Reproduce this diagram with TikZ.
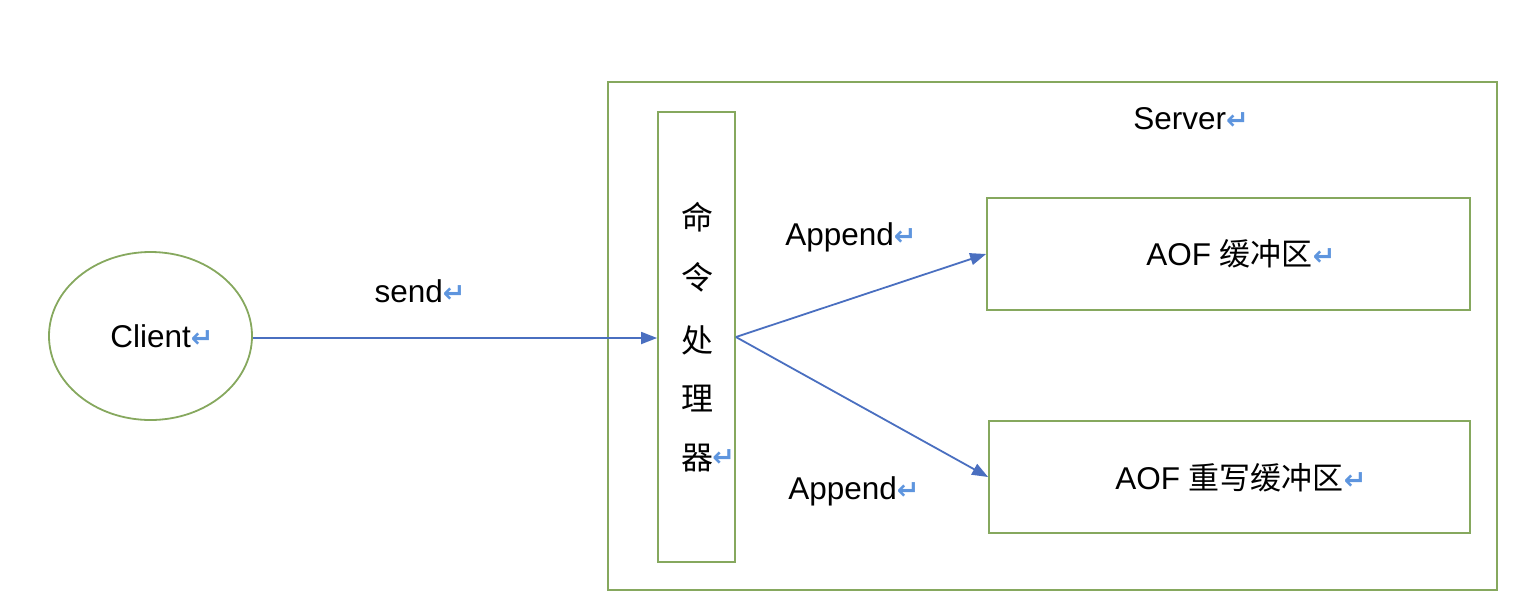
\documentclass[tikz,border=0pt]{standalone}
\usepackage{fontspec}
\setmainfont{Liberation Sans}
\newfontfamily\cjk{Noto Sans CJK SC}
\newfontfamily\symfont{DejaVu Sans}
\usetikzlibrary{shapes.geometric,arrows.meta}
\definecolor{boxgreen}{HTML}{86A85E}
\definecolor{arrblue}{HTML}{4A6FC0}
\definecolor{retblue}{HTML}{5E95DE}
\newcommand{\retmark}{{\symfont\bfseries\color{retblue}\fontsize{27}{27}\selectfont ↵}}
\tikzset{
  gbox/.style={draw=boxgreen, line width=1.8pt, rectangle, inner sep=0pt},
  lbl/.style={font=\fontsize{31.5}{34}\selectfont, inner sep=0pt, anchor=center},
  cjklbl/.style={lbl, font=\cjk\fontsize{32}{34}\selectfont},
  conn/.style={draw=arrblue, line width=1.8pt, -{Triangle[length=16pt,width=12pt]}}
}
\begin{document}
\begin{tikzpicture}[x=1pt,y=-1pt]
\useasboundingbox (0,0) rectangle (1532,614);
% server box
\node[gbox, minimum width=889pt, minimum height=508pt] (server) at (1052.5,336) {};
\node[lbl] (serverlbl) at (1191,119) {Server\retmark};
% client
\node[draw=boxgreen, line width=1.8pt, ellipse, minimum width=203pt, minimum height=168pt, inner sep=0pt] (client) at (150.5,336) {};
\node[lbl] (clientlbl) at (162,336) {Client\retmark};
% command processor
\node[gbox, minimum width=77pt, minimum height=450pt] (cmd) at (696.5,337) {};
\node[cjklbl] (c1) at (697,217) {命};
\node[cjklbl] (c2) at (697,277) {令};
\node[cjklbl] (c3) at (697,340) {处};
\node[cjklbl] (c4) at (697,399) {理};
\node[cjklbl] (c5) at (697,458) {器};
\node[inner sep=0pt, anchor=west] (c5ret) at ([xshift=-1pt]c5.east) {\retmark};
% AOF buffers
\node[gbox, minimum width=483pt, minimum height=112pt] (aof1) at (1228.5,254) {};
\node[lbl] (aof1lbl) at (1241,254) {AOF {\cjk\fontsize{31}{33}\selectfont 缓冲区}\retmark};
\node[gbox, minimum width=481pt, minimum height=112pt] (aof2) at (1229.5,477) {};
\node[lbl] (aof2lbl) at (1241,478) {AOF {\cjk\fontsize{31}{33}\selectfont 重写缓冲区}\retmark};
% labels
\node[lbl] (sendlbl) at (420,291) {send\retmark};
\node[lbl] (app1) at (851,237) {Append\retmark};
\node[lbl] (app2) at (854,491) {Append\retmark};
% connectors
\draw[conn] ([yshift=-2pt]client.east) -- ([yshift=-2pt]client.east -| cmd.west);
\draw[conn] (cmd.east) -- (aof1.west);
\draw[conn] (cmd.east) -- (aof2.west);
\end{tikzpicture}
\end{document}
